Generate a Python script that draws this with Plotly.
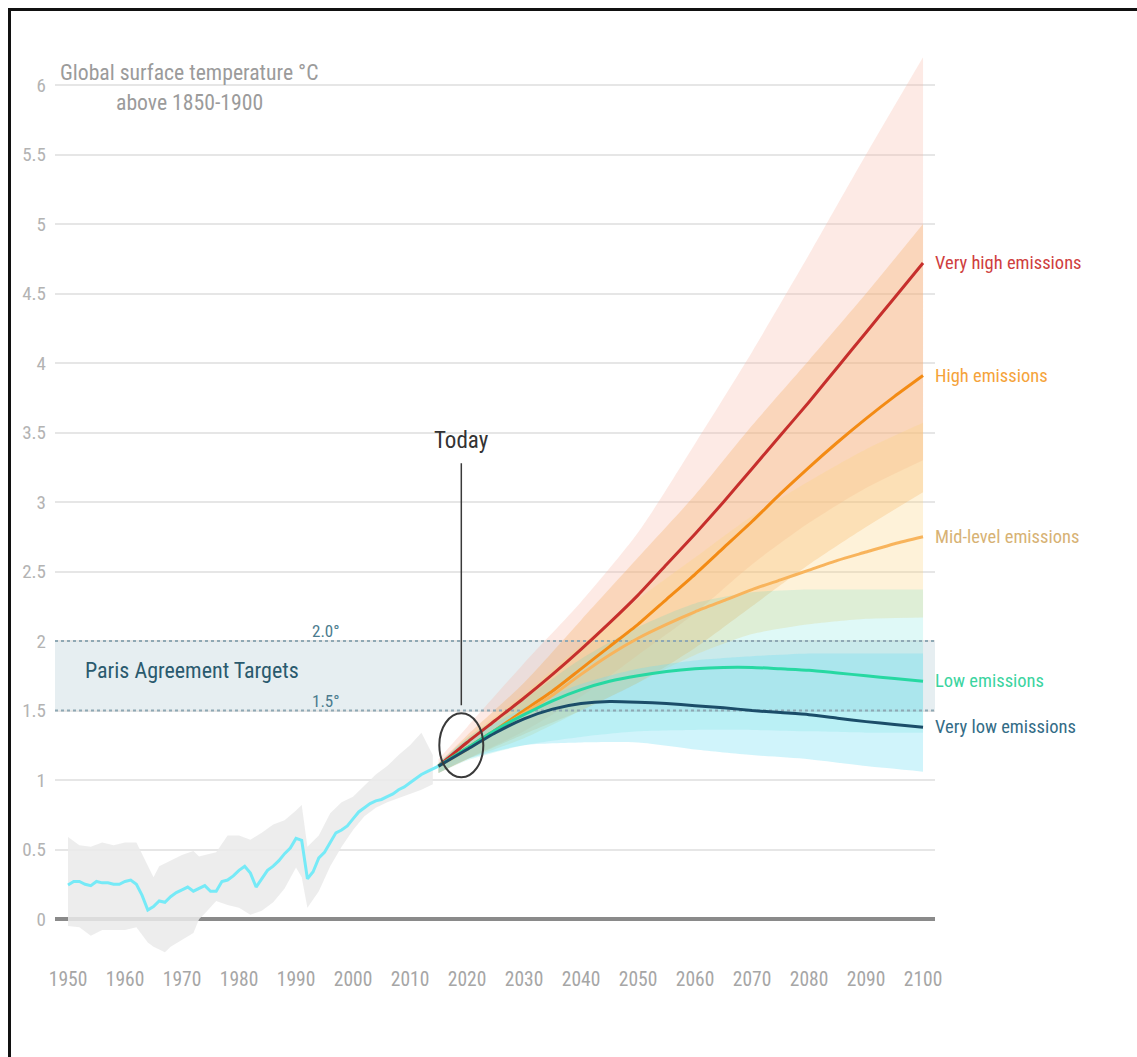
import plotly.graph_objects as go

# ---- historical observations (°C above 1850-1900) ----
hist_years = list(range(1950, 2016))
hist_temp = [0.245, 0.27, 0.27, 0.25, 0.24, 0.27, 0.26, 0.26, 0.25, 0.25,
             0.27, 0.28, 0.25, 0.17, 0.065, 0.09, 0.13, 0.12, 0.16, 0.19,
             0.21, 0.23, 0.20, 0.22, 0.24, 0.20, 0.20, 0.27, 0.28, 0.31,
             0.35, 0.38, 0.33, 0.23, 0.29, 0.35, 0.38, 0.42, 0.47, 0.51,
             0.58, 0.565, 0.29, 0.34, 0.44, 0.48, 0.55, 0.62, 0.64, 0.67,
             0.72, 0.77, 0.80, 0.83, 0.85, 0.86, 0.88, 0.90, 0.93, 0.95,
             0.98, 1.01, 1.04, 1.06, 1.08, 1.10]

hist_band_years = [1950, 1952, 1954, 1956, 1958, 1960, 1962, 1964, 1965, 1966,
                   1967, 1968, 1970, 1972, 1973, 1974, 1976, 1978, 1980, 1982,
                   1984, 1986, 1988, 1990, 1991, 1992, 1994, 1996, 1998, 2000,
                   2002, 2004, 2006, 2008, 2010, 2012, 2014]
hist_band_upper = [0.59, 0.53, 0.52, 0.55, 0.53, 0.55, 0.55, 0.38, 0.30, 0.38,
                   0.40, 0.42, 0.46, 0.49, 0.45, 0.46, 0.48, 0.60, 0.60, 0.57,
                   0.62, 0.68, 0.71, 0.78, 0.82, 0.52, 0.60, 0.76, 0.84, 0.88,
                   0.96, 1.04, 1.10, 1.18, 1.25, 1.34, 1.18]
hist_band_lower = [-0.05, -0.06, -0.12, -0.08, -0.08, -0.08, -0.06, -0.17, -0.20, -0.22,
                   -0.24, -0.20, -0.15, -0.10, 0.00, 0.04, 0.13, 0.10, 0.08, 0.03,
                   0.06, 0.12, 0.22, 0.37, 0.30, 0.08, 0.20, 0.38, 0.52, 0.64,
                   0.74, 0.80, 0.84, 0.87, 0.90, 0.93, 0.97]

# ---- scenario central estimates ----
proj_years = [2015, 2020, 2025, 2030, 2035, 2040, 2045, 2050, 2055,
              2060, 2065, 2070, 2075, 2080, 2085, 2090, 2095, 2100]
very_high = [1.10, 1.27, 1.43, 1.59, 1.76, 1.94, 2.13, 2.33, 2.55,
             2.77, 3.00, 3.24, 3.48, 3.72, 3.97, 4.22, 4.47, 4.72]
high = [1.10, 1.23, 1.36, 1.50, 1.64, 1.80, 1.96, 2.12, 2.30,
        2.48, 2.67, 2.86, 3.06, 3.25, 3.43, 3.60, 3.76, 3.91]
mid_level = [1.10, 1.22, 1.35, 1.48, 1.61, 1.76, 1.90, 2.02, 2.12,
             2.21, 2.29, 2.37, 2.44, 2.51, 2.58, 2.64, 2.70, 2.75]
low = [1.10, 1.23, 1.36, 1.47, 1.57, 1.65, 1.71, 1.75, 1.78,
       1.80, 1.81, 1.81, 1.80, 1.79, 1.77, 1.75, 1.73, 1.71]
very_low = [1.10, 1.22, 1.34, 1.44, 1.51, 1.55, 1.565, 1.56, 1.55,
            1.535, 1.52, 1.50, 1.485, 1.47, 1.445, 1.42, 1.40, 1.38]

# ---- scenario uncertainty ranges ----
band_years = [2015, 2020, 2030, 2040, 2050, 2060, 2070, 2080, 2090, 2100]
very_high_upper = [1.15, 1.38, 1.84, 2.28, 2.78, 3.42, 4.08, 4.78, 5.50, 6.20]
very_high_lower = [1.05, 1.15, 1.35, 1.60, 1.90, 2.20, 2.55, 2.85, 3.10, 3.30]
high_upper = [1.12, 1.32, 1.70, 2.15, 2.60, 3.05, 3.55, 4.02, 4.50, 5.00]
high_lower = [1.05, 1.15, 1.33, 1.50, 1.70, 1.95, 2.25, 2.55, 2.82, 3.07]
mid_upper = [1.12, 1.30, 1.62, 1.97, 2.30, 2.60, 2.90, 3.15, 3.38, 3.57]
mid_lower = [1.05, 1.15, 1.30, 1.50, 1.70, 1.90, 2.05, 2.12, 2.16, 2.17]
low_upper = [1.12, 1.30, 1.58, 1.87, 2.10, 2.27, 2.35, 2.37, 2.37, 2.37]
low_lower = [1.05, 1.14, 1.25, 1.31, 1.35, 1.36, 1.36, 1.35, 1.34, 1.34]
very_low_upper = [1.12, 1.29, 1.52, 1.69, 1.80, 1.86, 1.89, 1.91, 1.91, 1.91]
very_low_lower = [1.05, 1.15, 1.25, 1.27, 1.27, 1.22, 1.18, 1.15, 1.10, 1.06]

scenario_names = ["Very high emissions", "High emissions", "Mid-level emissions",
                  "Low emissions", "Very low emissions"]

paris_targets = [1.5, 2.0]
today_year = 2019
today_temp = 1.25

x_ticks = list(range(1950, 2101, 10))
y_ticks = [0, 0.5, 1, 1.5, 2, 2.5, 3, 3.5, 4, 4.5, 5, 5.5, 6]
y_tick_labels = ["0", "0.5", "1", "1.5", "2", "2.5", "3", "3.5", "4", "4.5", "5", "5.5", "6"]

X_RANGE = [1947.72, 2102.1]
Y_RANGE = [-0.331, 6.396]

FONT = "'Roboto Condensed', 'Liberation Sans Narrow', 'DejaVu Sans Condensed', 'Arial Narrow', Roboto, sans-serif"

line_colors = ["#c62f2c", "#f38b14", "#f8b45c", "#27d8a2", "#1b4d69"]
label_colors = ["#cf3e3e", "#f5a33a", "#d7b274", "#3bd4a0", "#336c86"]
band_fills = ["rgba(247,180,160,0.28)", "rgba(245,168,90,0.30)", "rgba(253,212,130,0.30)",
              "rgba(40,215,200,0.15)", "rgba(110,222,242,0.32)"]

series = [very_high, high, mid_level, low, very_low]
bands = [(very_high_upper, very_high_lower), (high_upper, high_lower),
         (mid_upper, mid_lower), (low_upper, low_lower),
         (very_low_upper, very_low_lower)]

fig = go.Figure()

# historical uncertainty
fig.add_trace(go.Scatter(
    x=hist_band_years + hist_band_years[::-1],
    y=hist_band_upper + hist_band_lower[::-1],
    fill="toself", fillcolor="rgba(234,234,234,0.85)",
    line=dict(width=0), hoverinfo="skip", showlegend=False))

# scenario ranges: lower edge, then upper edge filled down to it
for (up, lo), fc in zip(bands, band_fills):
    fig.add_trace(go.Scatter(
        x=band_years, y=lo, mode="lines",
        line=dict(width=0, shape="spline", smoothing=0.7),
        hoverinfo="skip", showlegend=False))
    fig.add_trace(go.Scatter(
        x=band_years, y=up, mode="lines", fill="tonexty", fillcolor=fc,
        line=dict(width=0, shape="spline", smoothing=0.7),
        hoverinfo="skip", showlegend=False))

# Paris targets (dotted)
for t in paris_targets:
    fig.add_trace(go.Scatter(
        x=X_RANGE, y=[t, t], mode="lines",
        line=dict(color="#8ea8b4", width=2, dash="dot"),
        hoverinfo="skip", showlegend=False))

# observed temperature
fig.add_trace(go.Scatter(
    x=hist_years, y=hist_temp, mode="lines",
    line=dict(color="#76eaf7", width=3), showlegend=False))

# scenario central lines
for name, ys, col in zip(scenario_names, series, line_colors):
    fig.add_trace(go.Scatter(
        x=proj_years, y=ys, mode="lines", name=name,
        line=dict(color=col, width=3, shape="spline", smoothing=0.6),
        showlegend=False))

annotations = []
for name, ys, col in zip(scenario_names, series, label_colors):
    annotations.append(dict(
        x=proj_years[-1], y=ys[-1], xref="x", yref="y", text=name,
        showarrow=False, xanchor="left", yanchor="middle", xshift=10,
        font=dict(family=FONT, size=18.5, color=col)))

# axis title block
annotations.append(dict(x=0.1525, y=0.955, xref="paper", yref="paper",
                        text="Global surface temperature °C", showarrow=False,
                        xanchor="center", yanchor="middle",
                        font=dict(family=FONT, size=21.7, color="#9b9b9b")))
annotations.append(dict(x=0.1525, y=0.922, xref="paper", yref="paper",
                        text="above 1850-1900", showarrow=False,
                        xanchor="center", yanchor="middle",
                        font=dict(family=FONT, size=21.7, color="#9b9b9b")))

# Paris targets labels
annotations.append(dict(x=0.156, y=sum(paris_targets) / 2, xref="paper", yref="y",
                        text="Paris Agreement Targets", showarrow=False,
                        xanchor="center", yanchor="middle", yshift=5,
                        font=dict(family=FONT, size=22, color="#2a5a6e")))
for t in paris_targets:
    annotations.append(dict(x=0.308, y=t, xref="paper", yref="y",
                            text=f"{t:.1f}°", showarrow=False,
                            xanchor="center", yanchor="bottom", yshift=-2,
                            font=dict(family=FONT, size=17, color="#4a7b8e")))

# Today marker
annotations.append(dict(x=today_year, y=today_temp, xref="x", yref="y",
                        text="Today", showarrow=False, xanchor="center",
                        yanchor="middle", yshift=305,
                        font=dict(family=FONT, size=23, color="#333333")))

shapes = [
    # Paris target zone
    dict(type="rect", xref="paper", yref="y", x0=0, x1=1,
         y0=paris_targets[0], y1=paris_targets[1],
         fillcolor="rgba(205,222,228,0.5)", line=dict(width=0), layer="below"),
    # Today ellipse
    dict(type="circle", xref="x", yref="y",
         xsizemode="pixel", xanchor=today_year, x0=-22, x1=22,
         ysizemode="pixel", yanchor=today_temp, y0=-32, y1=32,
         line=dict(color="#3a3a3a", width=2), layer="above"),
    # Today pointer
    dict(type="line", xref="x", yref="y", x0=today_year, x1=today_year,
         ysizemode="pixel", yanchor=today_temp, y0=40, y1=282,
         line=dict(color="#3a3a3a", width=1.5), layer="above"),
    # page frame
    dict(type="rect", xref="paper", yref="paper", x0=-0.0517, x1=1.6,
         y0=-0.15, y1=1.0219, line=dict(color="#111111", width=3),
         fillcolor="rgba(0,0,0,0)", layer="above"),
]

fig.update_layout(
    width=1137, height=1057,
    margin=dict(l=55, r=202, t=30, b=92),
    paper_bgcolor="white", plot_bgcolor="white",
    showlegend=False,
    annotations=annotations, shapes=shapes,
    xaxis=dict(range=X_RANGE, tickvals=x_ticks, showgrid=False, zeroline=False,
               showline=False, ticks="",
               tickfont=dict(family=FONT, size=19.5, color="#a6a6a6")),
    yaxis=dict(range=Y_RANGE, tickvals=y_ticks, ticktext=y_tick_labels,
               showgrid=True, gridcolor="#e6e6e6", gridwidth=1.5,
               zeroline=True, zerolinecolor="#8a8a8a", zerolinewidth=4,
               showline=False, ticks="", ticklabelstandoff=8,
               tickfont=dict(family=FONT, size=19, color="#b3b3b3")),
)

fig.write_html("out.html")
